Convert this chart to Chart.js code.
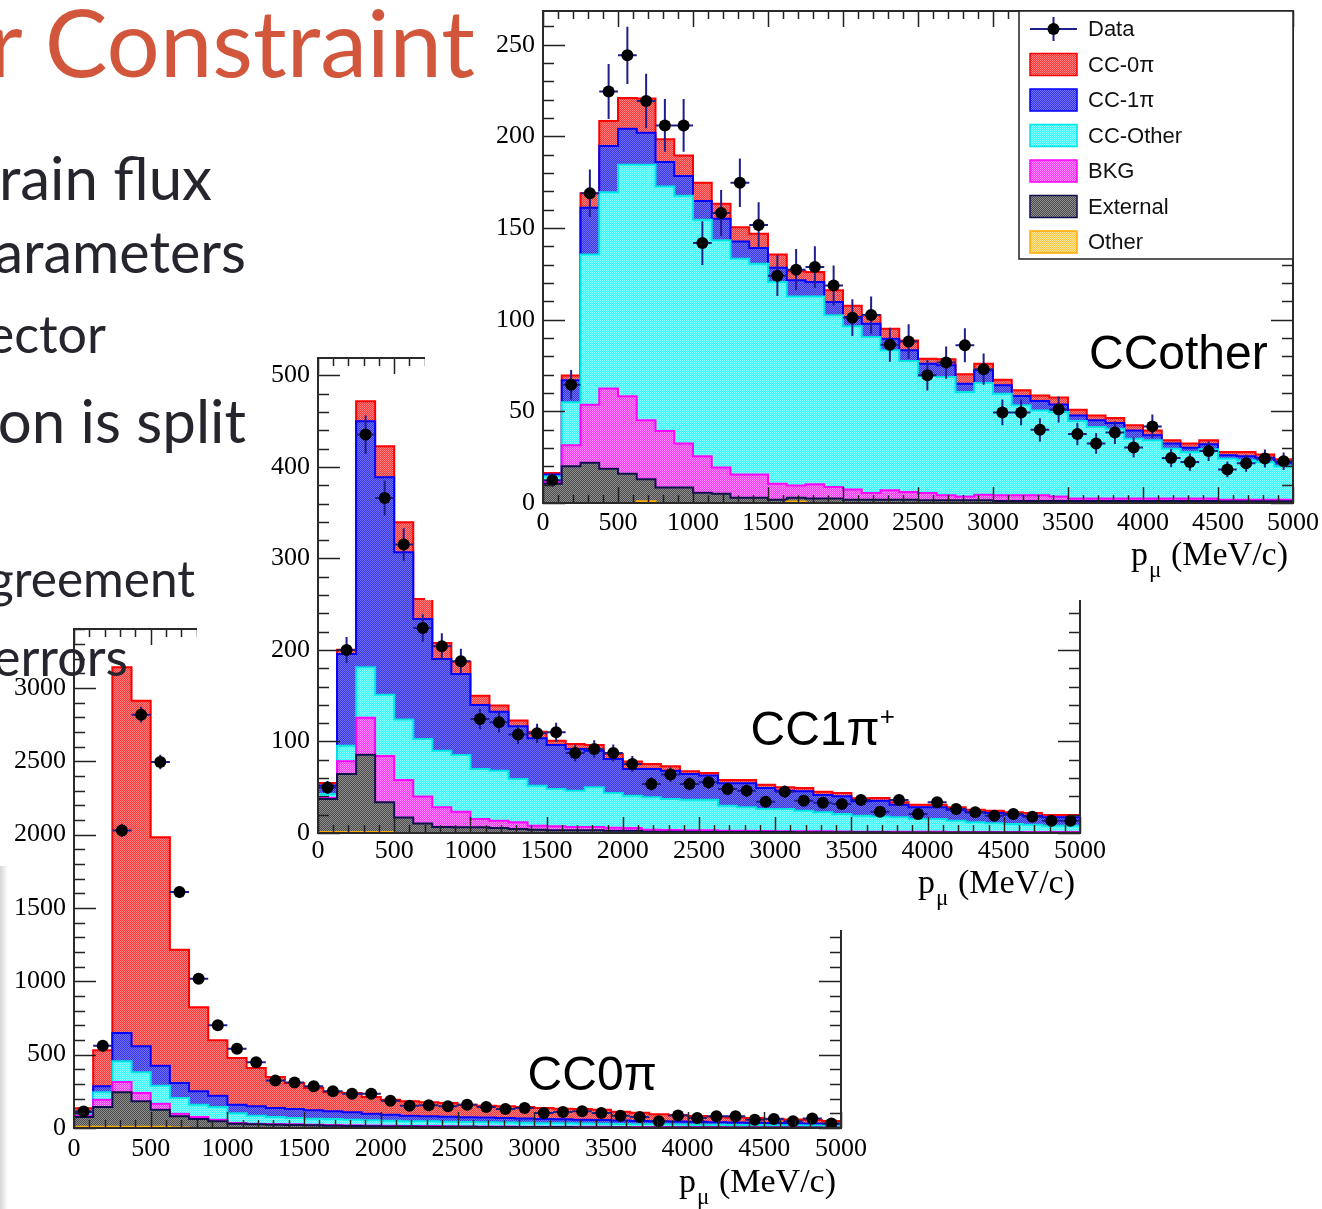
<!DOCTYPE html>
<html>
<head>
<meta charset="utf-8">
<title>Muon momentum samples</title>
<script src="https://cdn.jsdelivr.net/npm/chart.js@4.4.0/dist/chart.umd.min.js"></script>
<style>
  html, body { margin: 0; padding: 0; background: #fff; }
  body { width: 1322px; height: 1209px; position: relative; overflow: hidden; }
  .plot { position: absolute; background: #fff; }
  .plot canvas { display: block; }
  .slide { position: absolute; white-space: nowrap; text-align: right; line-height: 1;
           font-family: Lato, "Open Sans", sans-serif; color: #25252d; z-index: 10; }
  .slide.title { color: #d2563c; }
  .shade { position: absolute; left: 0; top: 866px; width: 8px; height: 343px; z-index: 5;
           background: linear-gradient(to right, #d6d6d6, #ffffff); }
</style>
</head>
<body>

<div class="plot" style="left:0;top:600px;width:870px;height:609px"><canvas id="cc0piChart" width="870" height="609"></canvas></div>
<div class="plot" style="left:197px;top:330px;width:913px;height:600px"><canvas id="cc1piChart" width="913" height="600"></canvas></div>
<div class="plot" style="left:425px;top:0;width:897px;height:600px"><canvas id="ccotherChart" width="897" height="600"></canvas></div>
<div class="shade"></div>

<div class="slide title" style="right:847px;top:-6px;font-size:94px">r Constraint</div>
<div class="slide" style="right:1110px;top:147px;font-size:60px">rain flux</div>
<div class="slide" style="right:1076px;top:222px;font-size:57.5px">arameters</div>
<div class="slide" style="right:1216px;top:307px;font-size:52px">ector</div>
<div class="slide" style="right:1076px;top:390px;font-size:60px">on is split</div>
<div class="slide" style="right:1127px;top:554px;font-size:49.5px">greement</div>
<div class="slide" style="right:1194px;top:630px;font-size:52px">errors</div>

<script>
// 40 bins of 125 MeV/c between 0 and 5000
const binEdges = [0, 125, 250, 375, 500, 625, 750, 875, 1000, 1125, 1250, 1375, 1500, 1625, 1750, 1875,
  2000, 2125, 2250, 2375, 2500, 2625, 2750, 2875, 3000, 3125, 3250, 3375, 3500, 3625, 3750, 3875,
  4000, 4125, 4250, 4375, 4500, 4625, 4750, 4875, 5000];
const xTickValues = [0, 500, 1000, 1500, 2000, 2500, 3000, 3500, 4000, 4500, 5000];

// stack order, bottom to top
const componentLabels = ['Other', 'External', 'BKG', 'CC-Other', 'CC-1π', 'CC-0π'];

// ---- CCother sample ----
const ccotherTicks = [0, 50, 100, 150, 200, 250];
const ccotherData = [12.4, 64.5, 169, 224.5, 244.2, 219.3, 206, 206, 141.8, 158.2, 174.7, 151.7, 124, 127.3, 128.7, 118.7,
  101.1, 102.5, 86.3, 88.1, 69.7, 76.6, 86, 73, 49.4, 49.4, 39.9, 51, 37.7, 32.5, 38.4, 30.3, 41.8, 24.5, 22.3, 28.3, 18.3, 21.7, 24.3, 22.8];
const ccotherOther = [0, 0, 0, 0, 0, 1, 0, 0, 0, 0, 0, 0, 0, 0.8, 0, 0, 0, 0, 0, 0,
  0, 0, 0, 0, 0, 0, 0, 0, 0, 0, 0, 0, 0, 0, 0, 0, 0, 0, 0, 0];
const ccotherExternal = [10.5, 20, 22, 18.7, 16, 11.9, 8.4, 8.4, 5.6, 5.1, 2.9, 2.9, 1.8, 2.1, 2.4, 2.4, 1.8, 1.8, 1.8, 1.8,
  1.5, 1.5, 1.5, 1.5, 1.1, 1.1, 1.1, 1.1, 1.1, 1.1, 1.1, 1.1, 1.1, 1.1, 1.1, 1.1, 0.9, 0.9, 0.9, 0.9];
const ccotherBkg = [1, 11.5, 31.6, 43.7, 42.2, 32.2, 30.9, 24, 19.9, 14.2, 12.6, 12.6, 8.7, 6.7, 7.8, 6.3, 5.5, 3.7, 5.1, 4.2,
  4, 2.7, 2.1, 3, 3.1, 3.1, 3.1, 2.5, 1.3, 1.3, 1.3, 1.3, 1.3, 1.3, 1.3, 1.3, 0.9, 0.9, 0.9, 0.9];
const ccotherCCOther = [3, 23.5, 81.9, 107.1, 126.3, 139.4, 133.4, 135.2, 129, 124, 117.8, 115, 110, 103.1, 102.5, 93.7, 89.1, 85, 76.4, 71.5,
  63.8, 64.5, 56.9, 61, 55.4, 49.1, 46.3, 46, 42.3, 39.1, 38.1, 32.7, 31.8, 27.2, 25.4, 26.9, 22.4, 21.5, 20.6, 18.2];
const ccotherCC1pi = [1, 12, 25.5, 25.2, 19.7, 17.5, 13.3, 10.8, 10.2, 11.7, 9.4, 8.6, 7.9, 8.8, 7.8, 7.2, 5.1, 7.3, 6.3, 5.8,
  6.7, 6.4, 4.6, 6.9, 4.6, 5.1, 5.1, 4.2, 3.1, 3.6, 3.1, 4.5, 2.7, 2.8, 2.4, 2.7, 1.8, 2.2, 2.3, 2];
const ccotherCC0pi = [0.9, 2.5, 8, 13.7, 16.8, 18.7, 12.4, 11.2, 10, 8.3, 7.7, 7.8, 7.1, 4.9, 5.5, 6.4, 6.1, 4.6, 5.5, 5.4,
  2.7, 3.3, 5.1, 3.6, 3.1, 3.1, 3.1, 3.7, 3.1, 2.7, 2.8, 2.8, 2.7, 1.8, 2.2, 2.2, 1.8, 2.3, 1.8, 1.8];

// ---- CC1pi+ sample ----
const cc1piTicks = [0, 100, 200, 300, 400, 500];
const cc1piData = [49.8, 200, 435.3, 366.1, 315.1, 224, 204, 187.6, 124.6, 120.9, 107.5, 108.9, 110, 87.4, 91.8, 87.4, 75.4, 53.6, 63.8, 53.6,
  55.4, 48.1, 46.3, 34.2, 45.2, 35.3, 33.1, 31.7, 36.1, 23.3, 36.1, 20.8, 33.5, 26.2, 22.6, 18.9, 20.8, 17.8, 13.5, 13.5];
const cc1piOther = [1.2, 1.2, 1.2, 1.2, 0, 0, 0, 0, 0, 0, 0, 0, 0, 0, 0, 0, 0, 0, 0, 0,
  0, 0, 0, 0, 0, 0, 0, 0, 0, 0, 0, 0, 0, 0, 0, 0, 0, 0, 0, 0];
const cc1piExternal = [36, 63.3, 84.2, 32.3, 17, 10.5, 6.5, 6.2, 6.2, 5.5, 4.4, 3.6, 2.9, 2.9, 2.9, 2.5, 2.5, 1.5, 1.5, 1.5,
  1.2, 1, 1, 1, 1, 0.8, 0.8, 0.8, 0.7, 0.7, 0.6, 0.6, 0.6, 0.5, 0.5, 0.5, 0.5, 0.4, 0.4, 0.4];
const cc1piBkg = [1.3, 13.8, 40.6, 50.5, 41, 29.5, 21.5, 17.1, 9.1, 8, 7.3, 4.4, 4.4, 3.7, 3.7, 3.3, 3, 2.1, 1.8, 1.5,
  1.8, 1.5, 1.5, 1.2, 1, 1, 1, 0.8, 0.8, 0.8, 0.8, 0.7, 0.7, 0.7, 0.7, 0.6, 0.6, 0.6, 0.6, 0.6];
const cc1piCCOther = [4.1, 17.1, 55, 67, 66, 62.7, 62, 61.9, 54.6, 54.6, 47.3, 43.7, 40.8, 39.7, 43.3, 37.9, 35.3, 35.4, 33.9, 33.4,
  33.4, 27.4, 25.6, 24, 24.2, 22.6, 20.8, 19.2, 17.4, 16.4, 15.7, 14, 14, 12.3, 10.5, 9.5, 8.7, 8.1, 7, 7];
const cc1piCC1pi = [9.4, 100.2, 268.9, 237.7, 182.7, 131.2, 100.2, 88.6, 70, 64.5, 57.6, 51.8, 48.1, 45.5, 40.1, 37.2, 29.1, 31, 30.9, 28.1,
  26.3, 24.4, 26.2, 23, 20.1, 21.1, 18.9, 19.3, 15.7, 17.4, 13.9, 12.8, 12.8, 12, 10.9, 11.3, 10.2, 9.8, 9.1, 9.1];
const cc1piCC0pi = [2.6, 4.7, 21.9, 33.9, 32.8, 21.8, 17.5, 13.4, 10.2, 6.6, 6.2, 7.2, 4.7, 5.5, 6.2, 5.4, 8.1, 5.4, 4.8, 2.9,
  2.9, 3.6, 3.6, 3.6, 3.6, 3.7, 3.7, 3.6, 3.3, 3, 2.5, 2.9, 2.9, 2.6, 2.9, 2.5, 2.6, 3, 2.6, 2.6];

// ---- CC0pi sample ----
const cc0piTicks = [0, 500, 1000, 1500, 2000, 2500, 3000];
const cc0piData = [113, 560, 2029, 2818, 2495, 1609, 1018, 700, 541, 448, 323, 311, 284, 250, 234, 234, 186, 152, 155, 148,
  159, 143, 130, 136, 102, 109, 114, 102, 84, 75, 46, 86, 68, 80, 80, 57, 61, 46, 64, 30];
const cc0piOther = [8, 8, 8, 8, 8, 3, 0, 0, 0, 0, 0, 0, 0, 0, 0, 0, 0, 0, 0, 0,
  0, 0, 0, 0, 0, 0, 0, 0, 0, 0, 0, 0, 0, 0, 0, 0, 0, 0, 0, 0];
const cc0piExternal = [67, 135, 235, 173.8, 117, 76.5, 61.4, 45.5, 29.5, 25, 22.7, 20, 18, 16, 14, 12, 11, 10, 9, 8,
  8, 7, 7, 6, 6, 6, 5, 5, 5, 4, 4, 4, 4, 3, 3, 3, 3, 3, 3, 2];
const cc0piBkg = [10, 50, 70.6, 56.8, 41, 18.2, 13.6, 11.3, 4.5, 4.5, 4.3, 5, 5, 5, 5, 5, 5, 4, 4, 4,
  3, 3, 3, 3, 3, 2, 3, 3, 2, 3, 3, 2, 2, 3, 2, 2, 2, 2, 1, 2];
const cc0piCCOther = [10, 50, 140.9, 140.9, 122.6, 106.8, 84, 86.4, 66, 54.5, 48, 43.2, 40.6, 40.4, 37.8, 35.3, 34, 31.5, 32.5, 31,
  30, 29, 27, 26, 24, 24, 22, 21, 20, 19, 18, 18, 17, 16, 16, 15, 14, 13, 13, 12];
const cc0piCC1pi = [15, 41, 193.5, 177.3, 136.4, 102.3, 91, 77.3, 59, 63.7, 61.4, 61.3, 56.9, 52.2, 50, 45.4, 41, 38.5, 34, 34,
  33, 32, 31, 30, 29, 27, 26, 25, 24, 22, 21, 20, 19, 18, 17, 16, 15, 14, 13, 13];
const cc0piCC0pi = [25, 246, 2493, 2356.8, 1556.8, 909.2, 572.7, 377.2, 318.3, 261.3, 211.3, 177.3, 152.2, 129.4, 131.8, 113.7, 102.2, 97.8, 95.5, 93,
  85, 81, 80, 78, 74, 73, 74, 71, 59, 56, 47, 44, 40, 37, 34, 32, 29, 26, 24, 19];

// ---- styles ----
const fillColors = [['#ffc440', '#ffe49c'], ['#4c4c4c', '#8e8e8e'], ['#ff30ff', '#ff96ff'],
                    ['#30ffff', '#92ffff'], ['#3434ee', '#7474f2'], ['#ff3434', '#ff8484']];
const lineColors = ['#ffaa00', '#10104e', '#ff00ff', '#00e4e4', '#0000ff', '#ff0000'];
const errColor = '#1f1f8c';
const serif = '"Liberation Serif", "Times New Roman", serif';
const sans = '"Liberation Sans", Arial, sans-serif';

// ROOT-like dotted fill
function checker(a, b) {
  const c = document.createElement('canvas');
  c.width = 2; c.height = 2;
  const g = c.getContext('2d');
  g.fillStyle = b; g.fillRect(0, 0, 2, 2);
  g.fillStyle = a; g.fillRect(0, 0, 1, 1); g.fillRect(1, 1, 1, 1);
  return g.createPattern(c, 'repeat');
}
const fillPatterns = fillColors.map(p => checker(p[0], p[1]));

function drawMarker(ctx, x, y, r) {
  ctx.beginPath();
  ctx.arc(x, y, r, 0, Math.PI * 2);
  ctx.fillStyle = '#000';
  ctx.fill();
}

// frame, inner ticks, error bars, legend and labels
const rootFrame = {
  id: 'rootFrame',
  beforeDatasetDraw(chart, args) {
    if (args.index !== 0) return;
    const { ctx, scales: { x, y } } = chart;
    ctx.save();
    ctx.strokeStyle = errColor;
    ctx.lineWidth = 2;
    ctx.beginPath();
    chart.data.datasets[0].data.forEach(p => {
      const px = x.getPixelForValue(p.x), py = y.getPixelForValue(p.y);
      const e = Math.sqrt(p.y); // Poisson error on the count
      ctx.moveTo(x.getPixelForValue(p.lo), py);
      ctx.lineTo(x.getPixelForValue(p.hi), py);
      ctx.moveTo(px, y.getPixelForValue(p.y - e));
      ctx.lineTo(px, y.getPixelForValue(p.y + e));
    });
    ctx.stroke();
    ctx.restore();
  },
  afterDatasetsDraw(chart, args, opts) {
    const { ctx, chartArea: a, scales: { x, y } } = chart;
    ctx.save();
    // ticks
    ctx.strokeStyle = '#222';
    ctx.lineWidth = 1.5;
    ctx.beginPath();
    for (let v = 0; v <= 5000; v += 100) {
      const px = Math.round(x.getPixelForValue(v)) + 0.5;
      const len = v % 500 === 0 ? 16 : 8;
      ctx.moveTo(px, a.bottom); ctx.lineTo(px, a.bottom - len);
      ctx.moveTo(px, a.top); ctx.lineTo(px, a.top + len);
    }
    const minor = opts.yStep / 5;
    for (let v = 0; v <= y.max; v += minor) {
      const py = Math.round(y.getPixelForValue(v)) + 0.5;
      const major = Math.abs(v / opts.yStep - Math.round(v / opts.yStep)) < 1e-6;
      const len = major ? 22 : 11;
      ctx.moveTo(a.left, py); ctx.lineTo(a.left + len, py);
      ctx.moveTo(a.right, py); ctx.lineTo(a.right - len, py);
    }
    ctx.stroke();
    // frame
    ctx.strokeStyle = '#2a2a2a';
    ctx.lineWidth = 2;
    ctx.strokeRect(a.left, a.top, a.right - a.left, a.bottom - a.top);

    // axis title p_mu (MeV/c)
    ctx.fillStyle = '#000';
    ctx.textBaseline = 'alphabetic';
    const big = '34px ' + serif, small = '23px ' + serif;
    ctx.font = big;
    const wp = ctx.measureText('p').width, wr = ctx.measureText(' (MeV/c)').width;
    ctx.font = small;
    const wm = ctx.measureText('μ').width;
    const tx = a.right - 5 - (wp + wm + 2 + wr);
    const ty = a.bottom + opts.titleDrop;
    ctx.font = big; ctx.textAlign = 'left';
    ctx.fillText('p', tx, ty);
    ctx.font = small;
    ctx.fillText('μ', tx + wp + 1, ty + 12);
    ctx.font = big;
    ctx.fillText(' (MeV/c)', tx + wp + wm + 2, ty);

    // sample label
    const lx = x.getPixelForValue(opts.label.x), ly = y.getPixelForValue(opts.label.y);
    ctx.font = '48px ' + sans;
    ctx.fillText(opts.label.text, lx, ly);
    if (opts.label.sup) {
      const w = ctx.measureText(opts.label.text).width;
      ctx.font = '26px ' + sans;
      ctx.fillText(opts.label.sup, lx + w, ly - 20);
    }

    // legend box
    if (opts.legend) {
      const L = opts.legend;
      const x0 = a.right - L.w, y0 = a.top;
      ctx.fillStyle = '#fff';
      ctx.fillRect(x0, y0, L.w, L.h);
      ctx.strokeStyle = '#222';
      ctx.lineWidth = 1.5;
      ctx.strokeRect(x0, y0, L.w, L.h);
      const sets = chart.data.datasets;
      const rows = [0].concat(sets.map((d, i) => i).slice(1).reverse());
      ctx.font = '22px ' + sans;
      ctx.textBaseline = 'middle';
      rows.forEach((di, r) => {
        const cy = y0 + 18 + r * 35.5;
        if (di === 0) {
          ctx.strokeStyle = errColor;
          ctx.lineWidth = 2;
          ctx.beginPath();
          ctx.moveTo(x0 + 11, cy); ctx.lineTo(x0 + 58, cy);
          ctx.moveTo(x0 + 34.5, cy - 12); ctx.lineTo(x0 + 34.5, cy + 12);
          ctx.stroke();
          drawMarker(ctx, x0 + 34.5, cy, 6);
        } else {
          ctx.fillStyle = sets[di].backgroundColor;
          ctx.fillRect(x0 + 11, cy - 11, 47, 22);
          ctx.strokeStyle = sets[di].borderColor;
          ctx.lineWidth = 1.5;
          ctx.strokeRect(x0 + 11, cy - 11, 47, 22);
        }
        ctx.fillStyle = '#111';
        ctx.fillText(sets[di].label, x0 + 69, cy + 1);
      });
    }
    ctx.restore();
  }
};

function histChart(id, spec) {
  const datasets = [{
    label: 'Data',
    stack: 'data',
    showLine: false,
    data: spec.data.map((v, i) => ({ x: (binEdges[i] + binEdges[i + 1]) / 2, y: v, lo: binEdges[i], hi: binEdges[i + 1] })),
    pointRadius: 6,
    pointBackgroundColor: '#000',
    pointBorderWidth: 0
  }];
  spec.parts.forEach((vals, k) => {
    datasets.push({
      label: componentLabels[k],
      stack: 'mc',
      data: binEdges.map((e, i) => ({ x: e, y: vals[Math.min(i, vals.length - 1)] })),
      stepped: 'before',
      fill: k === 0 ? 'origin' : '-1',
      backgroundColor: fillPatterns[k],
      borderColor: lineColors[k],
      borderWidth: 2,
      pointRadius: 0
    });
  });

  return new Chart(document.getElementById(id), {
    type: 'line',
    data: { datasets },
    plugins: [rootFrame],
    options: {
      responsive: false,
      animation: false,
      events: [],
      devicePixelRatio: 1,
      layout: { autoPadding: false, padding: spec.pad },
      plugins: {
        legend: { display: false },
        tooltip: { enabled: false },
        rootFrame: { yStep: spec.yTicks[1], legend: spec.legend, label: spec.label, titleDrop: spec.titleDrop }
      },
      scales: {
        x: {
          type: 'linear', min: 0, max: 5000,
          grid: { display: false, drawTicks: false },
          border: { display: false },
          afterBuildTicks: s => { s.ticks = xTickValues.map(value => ({ value })); },
          afterFit: s => { s.height = 40; s.paddingLeft = 0; s.paddingRight = 0; },
          ticks: { font: { family: serif, size: 26 }, color: '#000', padding: spec.xPad, maxRotation: 0, autoSkip: false,
                   callback: v => String(v) }
        },
        y: {
          type: 'linear', stacked: true, min: 0, max: spec.yMax,
          grid: { display: false, drawTicks: false },
          border: { display: false },
          afterBuildTicks: s => { s.ticks = spec.yTicks.map(value => ({ value })); },
          afterFit: s => { s.width = spec.yAxisWidth; s.paddingTop = 0; s.paddingBottom = 0; },
          ticks: { font: { family: serif, size: 26 }, color: '#000', padding: 8, autoSkip: false,
                   callback: v => String(v) }
        }
      }
    }
  });
}

const cc0piChart = histChart('cc0piChart', {
  data: cc0piData,
  parts: [cc0piOther, cc0piExternal, cc0piBkg, cc0piCCOther, cc0piCC1pi, cc0piCC0pi],
  yMax: 3402, yTicks: cc0piTicks, yAxisWidth: 70, xPad: 6,
  pad: { left: 4, top: 29, right: 29, bottom: 41 },
  label: { text: 'CC0π', x: 2957, y: 259 },
  titleDrop: 64
});

const cc1piChart = histChart('cc1piChart', {
  data: cc1piData,
  parts: [cc1piOther, cc1piExternal, cc1piBkg, cc1piCCOther, cc1piCC1pi, cc1piCC0pi],
  yMax: 519, yTicks: cc1piTicks, yAxisWidth: 80, xPad: 3,
  pad: { left: 41, top: 28, right: 30, bottom: 57 },
  label: { text: 'CC1π', sup: '+', x: 2838, y: 96 },
  titleDrop: 60
});

const ccotherChart = histChart('ccotherChart', {
  data: ccotherData,
  parts: [ccotherOther, ccotherExternal, ccotherBkg, ccotherCCOther, ccotherCC1pi, ccotherCC0pi],
  yMax: 268.4, yTicks: ccotherTicks, yAxisWidth: 80, xPad: 5,
  pad: { left: 38, top: 11, right: 29, bottom: 57 },
  label: { text: 'CCother', x: 3640, y: 73 },
  legend: { w: 274, h: 248 },
  titleDrop: 62
});
</script>
</body>
</html>
